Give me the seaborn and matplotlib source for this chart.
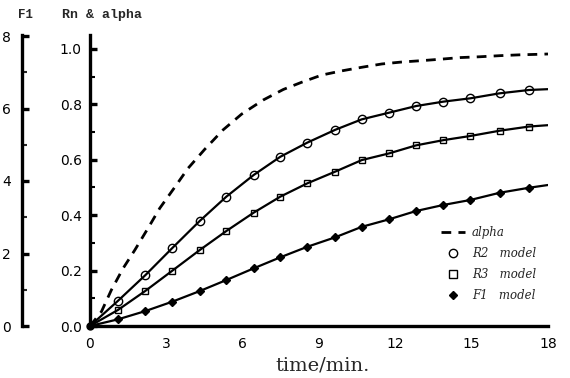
import matplotlib
matplotlib.use("Agg")
import matplotlib.pyplot as plt
from matplotlib.lines import Line2D
from matplotlib.legend_handler import HandlerLine2D
from matplotlib.ticker import MultipleLocator
import seaborn as sns
import pandas as pd

# ---- data ----
t_alpha = [0, 0.45, 0.84, 1.30, 1.76, 2.28, 2.74, 3.30, 3.85, 4.51, 5.23, 5.96, 6.81,
           7.60, 8.32, 9.11, 9.89, 10.68, 11.47, 12.25, 13.04, 13.76, 14.54, 15.33,
           16.12, 16.90, 17.69, 18.0]
alpha = [0, 0.052, 0.13, 0.208, 0.274, 0.353, 0.425, 0.497, 0.569, 0.638, 0.708, 0.765,
         0.816, 0.854, 0.880, 0.906, 0.921, 0.934, 0.946, 0.953, 0.958, 0.963, 0.969,
         0.972, 0.976, 0.979, 0.981, 0.982]

t_model = [0, 1.10, 2.18, 3.24, 4.31, 5.36, 6.43, 7.48, 8.54, 9.63, 10.68, 11.75, 12.81,
           13.89, 14.95, 16.10, 17.25, 18.0]
r2_model = [0, 0.091, 0.184, 0.282, 0.379, 0.467, 0.545, 0.611, 0.662, 0.708, 0.746,
            0.770, 0.794, 0.810, 0.822, 0.840, 0.852, 0.855]
r3_model = [0, 0.058, 0.127, 0.200, 0.274, 0.343, 0.409, 0.467, 0.515, 0.557, 0.599,
            0.623, 0.652, 0.671, 0.686, 0.705, 0.720, 0.725]
f1_model = [0, 0.024, 0.054, 0.088, 0.126, 0.166, 0.208, 0.248, 0.286, 0.320, 0.358,
            0.385, 0.415, 0.437, 0.455, 0.481, 0.499, 0.509]

x_ticks = [0, 3, 6, 9, 12, 15, 18]
rn_ticks = [0.0, 0.2, 0.4, 0.6, 0.8, 1.0]
f1_ticks = [0, 2, 4, 6, 8]

legend_labels = ["alpha", "R2   model", "R3   model", "F1   model"]

sns.set_style("white")
plt.rcParams["font.family"] = ["DejaVu Sans"]

fig = plt.figure(figsize=(5.7, 3.78), dpi=100)
W, H = 570, 378
ax = fig.add_axes([90 / W, 1 - 326 / H, 458 / W, 291 / H])

df_a = pd.DataFrame({"t": t_alpha, "v": alpha})
sns.lineplot(data=df_a, x="t", y="v", ax=ax, color="black", lw=2.0,
             linestyle=(0, (3.5, 2.6)), sort=False, estimator=None)

inner = list(range(1, len(t_model) - 1))
specs = [(r2_model, "o", "none", 6.0), (r3_model, "s", "none", 5.0),
         (f1_model, "D", "black", 4.0)]
for vals, mk, fc, ms in specs:
    d = pd.DataFrame({"t": t_model, "v": vals})
    sns.lineplot(data=d, x="t", y="v", ax=ax, color="black", lw=1.6, sort=False,
                 estimator=None, marker=mk, markersize=ms, markerfacecolor=fc,
                 markeredgecolor="black", markeredgewidth=1.0, markevery=inner)
# origin dot
ax.plot([0], [0], marker="o", ms=5, color="black", clip_on=False)

ax.set_xlim(0, 18)
ax.set_ylim(0, 291 / 277)
ax.set_xlabel("")
ax.set_ylabel("")
ax.set_xticks(x_ticks)
ax.set_xticklabels([str(v) for v in x_ticks])
ax.set_yticks(rn_ticks)
ax.set_yticklabels([f"{v:.1f}" for v in rn_ticks])
ax.xaxis.set_minor_locator(MultipleLocator(1.5))
ax.yaxis.set_minor_locator(MultipleLocator(0.1))
for s in ["top", "right"]:
    ax.spines[s].set_visible(False)
for s in ["left", "bottom"]:
    ax.spines[s].set_linewidth(2.4)
    ax.spines[s].set_color("black")
ax.tick_params(which="major", direction="in", length=5, width=2.4, labelsize=10,
               colors="black")
ax.tick_params(axis="y", which="major", pad=6)
ax.tick_params(axis="x", which="major", pad=8)
ax.tick_params(which="minor", direction="in", length=3.5, width=1.5, colors="black")
ax.patch.set_alpha(0)

# F1 axis on the far left
ax2 = ax.twinx()
ax2.set_ylim(0, 8 * 291 / 290)
ax2.yaxis.set_ticks_position("left")
ax2.spines["left"].set_position(("axes", -68 / 458))
ax2.spines["left"].set_visible(True)
for s in ["top", "right", "bottom"]:
    ax2.spines[s].set_visible(False)
ax2.spines["left"].set_linewidth(2.4)
ax2.spines["left"].set_color("black")
ax2.set_yticks(f1_ticks)
ax2.set_yticklabels([str(v) for v in f1_ticks])
ax2.yaxis.set_minor_locator(MultipleLocator(1))
ax2.tick_params(axis="y", which="major", direction="in", length=5, width=2.4,
                labelsize=10, pad=8, colors="black")
ax2.tick_params(axis="y", which="minor", direction="in", length=3.5, width=1.5)
ax2.patch.set_alpha(0)

# axis titles
fig.text(25.5 / W, 1 - 15 / H, "F1", family="Liberation Mono", weight="bold",
         fontsize=9, ha="center", va="center")
fig.text(102.5 / W, 1 - 15 / H, "Rn & alpha", family="Liberation Mono", weight="bold",
         fontsize=9.5, ha="center", va="center")
fig.text(323 / W, 1 - 366 / H, "time/min.", family="DejaVu Serif", fontsize=14,
         ha="center", va="center")


class LeftMarkerHandler(HandlerLine2D):
    def get_xdata(self, legend, xdescent, ydescent, width, height, fontsize):
        xdata, xm = super().get_xdata(legend, xdescent, ydescent, width, height, fontsize)
        return xdata, [-xdescent + 0.2 * width]


# legend
handles = [
    Line2D([], [], color="black", lw=2.0, linestyle=(0, (3.5, 2.6))),
    Line2D([], [], color="black", lw=0, marker="o", markerfacecolor="none",
           markersize=6, markeredgewidth=1.0),
    Line2D([], [], color="black", lw=0, marker="s", markerfacecolor="none",
           markersize=5.5, markeredgewidth=1.0),
    Line2D([], [], color="black", lw=0, marker="D", markerfacecolor="black",
           markersize=4.5),
]
hm = {h: LeftMarkerHandler(numpoints=1) for h in handles[1:]}
leg = ax.legend(handles, legend_labels, loc="upper left",
                bbox_to_anchor=((441 - 90) / 458, (326 - 226) / 291),
                frameon=False, borderpad=0, borderaxespad=0, handlelength=2.0,
                handletextpad=0.6, labelspacing=0.68, handler_map=hm,
                prop={"family": "DejaVu Serif", "style": "italic", "size": 8.5})

fig.savefig("out.png", dpi=100)
